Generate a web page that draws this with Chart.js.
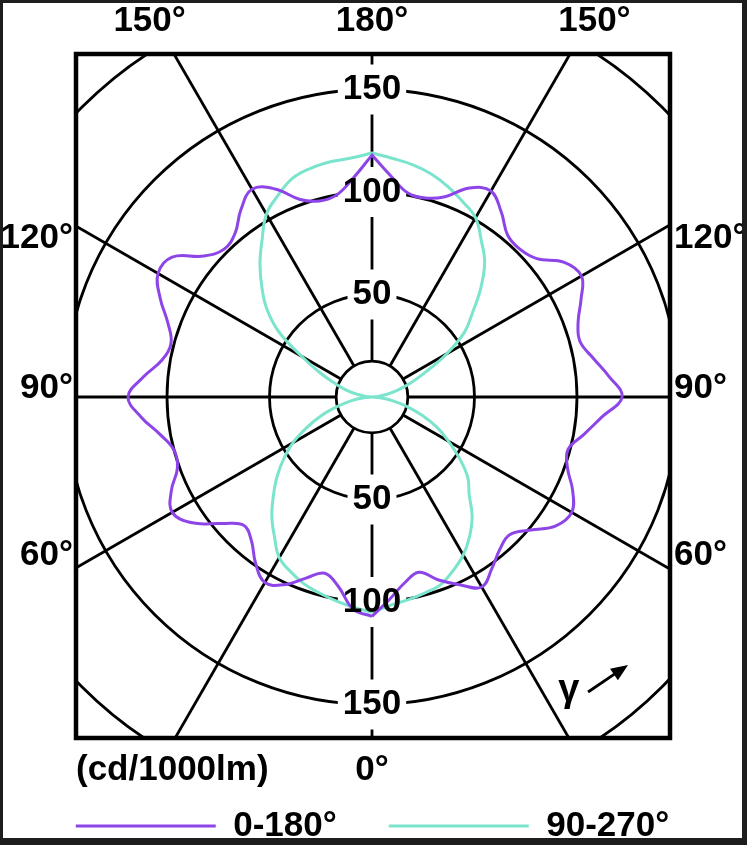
<!DOCTYPE html>
<html>
<head>
<meta charset="utf-8">
<script src="https://cdn.jsdelivr.net/npm/chart.js@4.4.1/dist/chart.umd.min.js"></script>
<style>
  body { margin: 0; background: #1e1e1e; }
  #wrap { position: absolute; left: 3px; top: 3px; width: 739px; height: 835px; overflow: hidden; background: #fff; }
  canvas { display: block; }
</style>
</head>
<body>
<div id="wrap"><canvas id="polar" width="739" height="860"></canvas></div>
<script>
// gamma angle (0 = straight down, 180 = straight up)
const gammaDeg = [0, 5, 10, 15, 20, 25, 30, 35, 40, 45, 50, 55, 60, 65, 70, 75, 80, 85, 90,
  95, 100, 105, 110, 115, 120, 125, 130, 135, 140, 145, 150, 155, 160, 165, 170, 175, 180];

// luminous intensity, cd/1000lm, left and right half of each plane
const purpleLeft = [107, 104, 94, 89, 94, 101, 104.5, 99, 91.5, 88.5, 96, 107, 112.5, 108, 101, 100, 105, 113, 119,
  112, 104, 101.5, 106, 114, 120.5, 119, 107, 102, 104, 111.5, 117, 112, 102.5, 99, 100, 107, 118];
const purpleRight = [107, 99, 92, 88.5, 95, 101, 107, 102, 97, 95, 101, 109.5, 112.5, 108, 101.5, 99, 105, 112.5, 122,
  116, 109.5, 105, 107, 112.5, 118, 114.5, 105, 102, 103, 110, 116, 112.5, 104, 100.5, 101, 108, 118];
const cyanLeft = [105, 103, 101, 99, 97, 94, 90.5, 83, 76, 68, 60.5, 52.5, 44.5, 35, 26, 17, 10, 4, 0,
  3, 7, 13, 19, 28, 39.5, 55.5, 67, 76, 85, 93.5, 103, 108.5, 113.5, 115.5, 116.5, 117, 119];
const cyanRight = [105, 102, 100.5, 99, 97.5, 93.5, 89, 83, 76, 67, 61, 52, 43, 35, 26, 17.5, 10, 4, 0,
  3, 7, 13, 20, 29, 42, 55, 64, 75, 85.5, 93, 101, 105, 109, 112.5, 115, 116.8, 119];

const seriesNames = ['0-180°', '90-270°'];
const seriesColors = ['#8d45e8', '#7ae4cd'];

// polar grid
const ringValues = [50, 100, 150, 200];
const innerRing = 17.5;
const ringLabels = [50, 100, 150];
const spokeAngles = [0, 30, 60, 90, 120, 150, 180, 210, 240, 270, 300, 330];

// angle labels round the frame
const topTicks = [-108.5, 0, 108.5];
const topTickLabels = ['150°', '180°', '150°'];
const sideTicks = [77.6, 4.4, -77.1];
const sideTickLabels = ['120°', '90°', '60°'];
const bottomTicks = [0];
const bottomTickLabels = ['0°'];
const unitLabel = '(cd/1000lm)';

const xMin = -144.39, xMax = 145.37, yMin = -166.34, yMax = 167.32;
const FONT = "'Liberation Sans', Arial, sans-serif";

function toXY(left, right) {
  const pts = [];
  gammaDeg.forEach((g, i) => {
    const a = g * Math.PI / 180;
    pts.push({ x: -left[i] * Math.sin(a), y: -left[i] * Math.cos(a) });
  });
  for (let i = gammaDeg.length - 1; i >= 0; i--) {
    const a = gammaDeg[i] * Math.PI / 180;
    pts.push({ x: right[i] * Math.sin(a), y: -right[i] * Math.cos(a) });
  }
  return pts;
}

const polarGrid = {
  id: 'polarGrid',
  beforeDatasetsDraw(chart) {
    const { ctx, chartArea: area, scales: { x, y } } = chart;
    const cx = x.getPixelForValue(0), cy = y.getPixelForValue(0);
    const k = x.getPixelForValue(1) - cx;
    ctx.save();
    ctx.beginPath();
    ctx.rect(area.left, area.top, area.width, area.height);
    ctx.clip();
    ctx.strokeStyle = '#000';
    ctx.lineWidth = 2.8;
    [innerRing, ...ringValues].forEach(v => {
      ctx.beginPath();
      ctx.arc(cx, cy, v * k, 0, 2 * Math.PI);
      ctx.stroke();
    });
    spokeAngles.forEach(a => {
      const r = a * Math.PI / 180;
      ctx.beginPath();
      ctx.moveTo(x.getPixelForValue(innerRing * Math.sin(r)), y.getPixelForValue(-innerRing * Math.cos(r)));
      ctx.lineTo(x.getPixelForValue(400 * Math.sin(r)), y.getPixelForValue(-400 * Math.cos(r)));
      ctx.stroke();
    });
    // white patches behind ring values
    ctx.font = 'bold 35px ' + FONT;
    ctx.fillStyle = '#fff';
    ringLabels.forEach(v => {
      const w = ctx.measureText(String(v)).width + 10;
      [v, -v].forEach(val => ctx.fillRect(cx - w / 2, y.getPixelForValue(val) - 25, w, 50));
    });
    ctx.restore();
  },
  afterDatasetsDraw(chart) {
    const { ctx, chartArea: area, scales: { x, y } } = chart;
    const cx = x.getPixelForValue(0);
    ctx.save();
    ctx.fillStyle = '#000';
    ctx.font = 'bold 35px ' + FONT;
    ctx.textAlign = 'center';
    ctx.textBaseline = 'middle';
    ringLabels.forEach(v => {
      [v, -v].forEach(val => ctx.fillText(String(v), cx, y.getPixelForValue(val)));
    });
    // gamma direction mark
    ctx.font = 'bold 38px ' + FONT;
    ctx.fillText('γ', x.getPixelForValue(96), y.getPixelForValue(-143));
    const x0 = x.getPixelForValue(105.4), y0 = y.getPixelForValue(-143.9);
    const x1 = x.getPixelForValue(124.9), y1 = y.getPixelForValue(-130.7);
    const ang = Math.atan2(y1 - y0, x1 - x0);
    ctx.strokeStyle = '#000';
    ctx.lineWidth = 2.8;
    ctx.beginPath();
    ctx.moveTo(x0, y0);
    ctx.lineTo(x1 - 12 * Math.cos(ang), y1 - 12 * Math.sin(ang));
    ctx.stroke();
    ctx.beginPath();
    ctx.moveTo(x1, y1);
    ctx.lineTo(x1 - 17 * Math.cos(ang) + 7 * Math.sin(ang), y1 - 17 * Math.sin(ang) - 7 * Math.cos(ang));
    ctx.lineTo(x1 - 17 * Math.cos(ang) - 7 * Math.sin(ang), y1 - 17 * Math.sin(ang) + 7 * Math.cos(ang));
    ctx.closePath();
    ctx.fill();
    // frame
    ctx.lineWidth = 4.5;
    ctx.strokeRect(area.left, area.top, area.width, area.height);
    ctx.restore();
  }
};

Chart.defaults.font.family = FONT;
Chart.defaults.font.size = 35;
Chart.defaults.font.weight = 'bold';
Chart.defaults.color = '#000';

function axis(position, min, max, ticks, labels, padding, size) {
  const horizontal = position === 'top' || position === 'bottom';
  return {
    type: 'linear',
    position,
    min,
    max,
    grid: { display: false, drawTicks: false },
    border: { display: false },
    afterBuildTicks: s => { s.ticks = ticks.map(v => ({ value: v })); },
    afterFit: s => { if (horizontal) s.height = size; else s.width = size; },
    ticks: { autoSkip: false, maxRotation: 0, padding, callback: (v, i) => labels[i] }
  };
}

const xBottom = axis('bottom', xMin, xMax, bottomTicks, bottomTickLabels, 11, 69);
xBottom.title = { display: true, text: unitLabel, align: 'start', padding: { top: 0, bottom: 16 } };

new Chart(document.getElementById('polar'), {
  type: 'scatter',
  data: {
    datasets: [
      {
        label: seriesNames[0],
        data: toXY(purpleLeft, purpleRight),
        borderColor: seriesColors[0],
        backgroundColor: seriesColors[0],
        showLine: true, pointRadius: 0, borderWidth: 3, tension: 0.4, fill: false
      },
      {
        label: seriesNames[1],
        data: toXY(cyanLeft, cyanRight),
        borderColor: seriesColors[1],
        backgroundColor: seriesColors[1],
        showLine: true, pointRadius: 0, borderWidth: 3, tension: 0.4, fill: false
      }
    ]
  },
  options: {
    responsive: false,
    animation: false,
    layout: { padding: { top: 0, left: 0, right: 0, bottom: 9.5 } },
    scales: {
      x: xBottom,
      x2: axis('top', xMin, xMax, topTicks, topTickLabels, 12, 51),
      y: axis('left', yMin, yMax, sideTicks, sideTickLabels, 3, 73),
      y2: axis('right', yMin, yMax, sideTicks, sideTickLabels, 4, 72)
    },
    plugins: {
      tooltip: { enabled: false },
      legend: {
        position: 'bottom',
        align: 'center',
        // empty title with negative padding pulls the legend row up under the axis
        title: { display: true, text: '', padding: { top: -92.5, bottom: 0 } },
        labels: {
          boxWidth: 140,
          boxHeight: 3,
          padding: 52,
          generateLabels: chart =>
            Chart.defaults.plugins.legend.labels.generateLabels(chart).map(l => ({ ...l, lineWidth: 0 }))
        }
      }
    }
  },
  plugins: [polarGrid]
});
</script>
</body>
</html>
